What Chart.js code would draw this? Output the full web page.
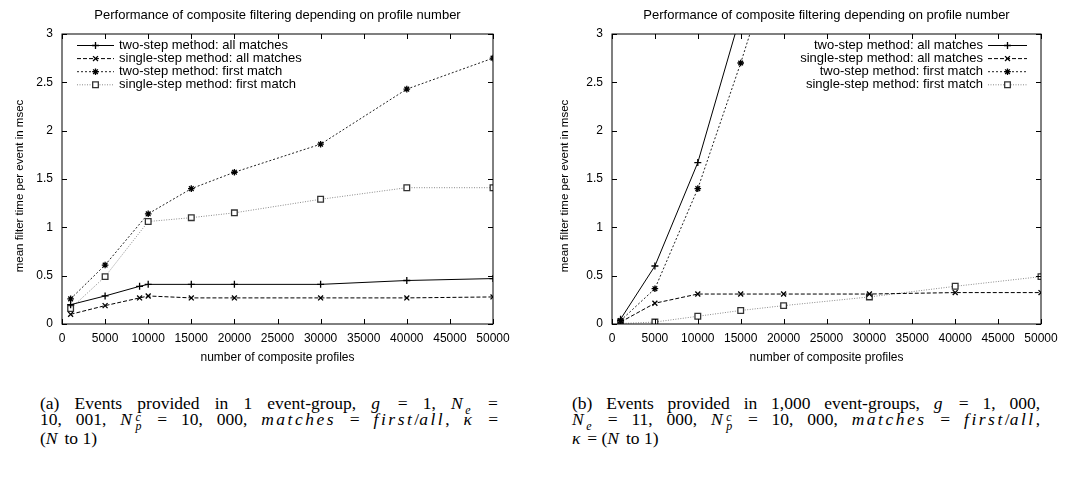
<!DOCTYPE html>
<html>
<head>
<meta charset="utf-8">
<script src="https://cdn.jsdelivr.net/npm/chart.js@4"></script>
<style>
body { margin: 0; background: #fff; width: 1081px; height: 478px; position: relative; overflow: hidden; }
canvas { position: absolute; top: 0; }
#chartA { left: 0; }
#chartB { left: 540px; }
.cap { position: absolute; top: 396px; font-family: "Liberation Serif", "Times New Roman", serif; font-size: 17.5px; line-height: 15.5px; color: #000; }
.cap div { text-align: justify; text-align-last: justify; white-space: nowrap; }
.cap div.last { text-align: left; text-align-last: left; }
.cap i { letter-spacing: 2.5px; }
.cap sub, .cap sup { font-size: 12px; line-height: 0; }
.ss { display: inline-block; vertical-align: -5px; line-height: 9px; font-size: 12px; font-style: italic; margin-left: 1px; margin-right: 2px; }
.ss span { display: block; }
</style>
</head>
<body>
<canvas id="chartA" width="540" height="375"></canvas>
<canvas id="chartB" width="541" height="375"></canvas>

<div class="cap" style="left:40px;width:458px">
  <div>(a) Events provided in 1 event-group, <i>g</i> = 1, <i>N</i><sub><i>e</i></sub> =</div>
  <div>10, 001, <i>N</i><span class="ss"><span>c</span><span>p</span></span> = 10, 000, <i>matches</i> = <i>first</i>/<i>all</i>, <i>κ</i> =</div>
  <div class="last">(<i>N</i> to 1)</div>
</div>
<div class="cap" style="left:572px;width:468px">
  <div>(b) Events provided in 1,000 event-groups, <i>g</i> = 1, 000,</div>
  <div><i>N</i><sub><i>e</i></sub> = 11, 000, <i>N</i><span class="ss"><span>c</span><span>p</span></span> = 10, 000, <i>matches</i> = <i>first</i>/<i>all</i>,</div>
  <div class="last"><i>κ</i> = (<i>N</i> to 1)</div>
</div>

<script>
// ====== Datos ======
const chartTitle = 'Performance of composite filtering depending on profile number';
const xTitle = 'number of composite profiles';
const yTitle = 'mean filter time per event in msec';
const seriesLabels = [
    'two-step method: all matches',
    'single-step method: all matches',
    'two-step method: first match',
    'single-step method: first match'
];

// (a) 1 event-group
const aProfilesAll = [1000, 5000, 9000, 10000, 15000, 20000, 30000, 40000, 50000];
const aTwoAll = [0.20, 0.29, 0.39, 0.41, 0.41, 0.41, 0.41, 0.45, 0.47];
const aSingleAll = [0.10, 0.19, 0.27, 0.29, 0.27, 0.27, 0.27, 0.27, 0.28];
const aProfilesFirst = [1000, 5000, 10000, 15000, 20000, 30000, 40000, 50000];
const aTwoFirst = [0.26, 0.61, 1.14, 1.40, 1.57, 1.86, 2.43, 2.75];
const aSingleFirst = [0.16, 0.49, 1.06, 1.10, 1.15, 1.29, 1.41, 1.41];

// (b) 1,000 event-groups
const bProfiles = [1000, 5000, 10000, 15000, 20000, 30000, 40000, 50000];
const bTwoAll = [0.05, 0.60, 1.67, 3.2];
const bSingleAll = [0.02, 0.215, 0.31, 0.31, 0.31, 0.31, 0.325, 0.325];
const bTwoFirst = [0.035, 0.365, 1.40, 2.70, 4.1];
const bSingleFirst = [0.005, 0.02, 0.08, 0.14, 0.19, 0.28, 0.39, 0.49];

const xTicks = [0, 5000, 10000, 15000, 20000, 25000, 30000, 35000, 40000, 45000, 50000];
const yTicks = [0, 0.5, 1, 1.5, 2, 2.5, 3];

// ====== Estilos ======
const estilos = [
    { dash: [], point: 'cross', color: '#000', pointColor: '#000', radius: 3.5 },
    { dash: [4, 2], point: 'crossRot', color: '#000', pointColor: '#000', radius: 3.5 },
    { dash: [2, 2], point: 'star', color: '#222', pointColor: '#000', radius: 3.3 },
    { dash: [1, 1.5], point: 'rect', color: '#8a8a8a', pointColor: '#333', radius: 4 }
];

const FONT = '"Liberation Sans", Arial, sans-serif';
Chart.defaults.font.family = FONT;
Chart.defaults.font.size = 12;
Chart.defaults.color = '#000';

const toPts = (xs, ys) => ys.map((y, i) => ({ x: xs[i], y: y }));

function makeDatasets(seriesXY) {
    return seriesXY.map((s, i) => ({
        label: seriesLabels[i],
        data: toPts(s[0], s[1]),
        borderColor: estilos[i].color,
        borderWidth: 1,
        borderDash: estilos[i].dash,
        pointStyle: estilos[i].point,
        pointRadius: estilos[i].radius,
        pointBorderWidth: 1.3,
        pointBorderColor: estilos[i].pointColor,
        pointBackgroundColor: '#fff',
        fill: false,
        tension: 0
    }));
}

// marco + ticks hacia adentro (estilo gnuplot) + titulo Y + leyenda
const framePlugin = {
    id: 'frame',
    afterDraw(chart, args, opts) {
        const { ctx, chartArea: a, scales } = chart;
        ctx.save();
        ctx.strokeStyle = '#000';
        ctx.lineWidth = 1;
        ctx.setLineDash([]);
        ctx.strokeRect(a.left, a.top, a.right - a.left, a.bottom - a.top);
        ctx.beginPath();
        xTicks.forEach(v => {
            const x = Math.round(scales.x.getPixelForValue(v)) + 0.5;
            ctx.moveTo(x, a.bottom); ctx.lineTo(x, a.bottom - 5);
            ctx.moveTo(x, a.top); ctx.lineTo(x, a.top + 5);
        });
        yTicks.forEach(v => {
            const y = Math.round(scales.y.getPixelForValue(v)) + 0.5;
            ctx.moveTo(a.left, y); ctx.lineTo(a.left + 5, y);
            ctx.moveTo(a.right, y); ctx.lineTo(a.right - 5, y);
        });
        ctx.stroke();

        // titulo eje Y
        ctx.save();
        ctx.translate(opts.yTitleX, opts.yTitleY);
        ctx.rotate(-Math.PI / 2);
        ctx.font = '11.5px ' + FONT;
        ctx.fillStyle = '#000';
        ctx.textAlign = 'center';
        ctx.textBaseline = 'middle';
        ctx.fillText(yTitle, 0, 0);
        ctx.restore();

        // leyenda
        ctx.font = '13px ' + FONT;
        ctx.textBaseline = 'middle';
        chart.data.datasets.forEach((ds, i) => {
            const y = opts.legendTop + i * 13.1;
            let x0, x1, tx;
            if (opts.legendSide === 'left') {
                x0 = opts.legendX; x1 = x0 + 37; tx = x1 + 5;
                ctx.textAlign = 'left';
            } else {
                x1 = opts.legendX; x0 = x1 - 39; tx = x0 - 5;
                ctx.textAlign = 'right';
            }
            ctx.fillStyle = '#000';
            ctx.fillText(ds.label, tx, y);
            ctx.strokeStyle = ds.borderColor;
            ctx.setLineDash(ds.borderDash);
            ctx.beginPath();
            ctx.moveTo(x0, y + 0.5); ctx.lineTo(x1, y + 0.5);
            ctx.stroke();
            ctx.setLineDash([]);
            ctx.strokeStyle = ds.pointBorderColor;
            ctx.fillStyle = ds.pointBackgroundColor;
            ctx.lineWidth = ds.pointBorderWidth;
            Chart.helpers.drawPoint(ctx, {
                pointStyle: ds.pointStyle, radius: ds.pointRadius,
                borderWidth: ds.pointBorderWidth, rotation: 0
            }, (x0 + x1) / 2, y + 0.5);
            ctx.lineWidth = 1;
        });
        ctx.restore();
    }
};

function makeChart(id, datasets, o) {
    return new Chart(document.getElementById(id).getContext('2d'), {
        type: 'line',
        data: { datasets: datasets },
        options: {
            responsive: false,
            animation: false,
            devicePixelRatio: 1,
            layout: { padding: { left: 0, right: o.padRight, top: 0, bottom: 0 } },
            scales: {
                x: {
                    type: 'linear', min: 0, max: 50000,
                    afterFit: s => { s.height = 51; },
                    grid: { display: false, drawTicks: false },
                    border: { display: false },
                    ticks: { stepSize: 5000, padding: 7, autoSkip: false, maxRotation: 0, callback: v => String(v) },
                    title: { display: true, text: xTitle, padding: { top: 0, bottom: 10 } }
                },
                y: {
                    type: 'linear', min: 0, max: 3,
                    afterFit: s => { s.width = o.yWidth; },
                    grid: { display: false, drawTicks: false },
                    border: { display: false },
                    ticks: { stepSize: 0.5, padding: 9, callback: v => String(v) },
                    title: { display: false }
                }
            },
            plugins: {
                legend: { display: false },
                tooltip: { enabled: false },
                title: {
                    display: true, text: chartTitle, fullSize: false,
                    font: { size: 13, weight: 'normal' },
                    padding: { top: 7.5, bottom: 10.9 }
                },
                frame: o.frame
            }
        },
        plugins: [framePlugin]
    });
}

makeChart('chartA', makeDatasets([
    [aProfilesAll, aTwoAll],
    [aProfilesAll, aSingleAll],
    [aProfilesFirst, aTwoFirst],
    [aProfilesFirst, aSingleFirst]
]), { padRight: 47, yWidth: 62, frame: { legendSide: 'left', legendX: 77, legendTop: 45, yTitleX: 20, yTitleY: 186 } });

makeChart('chartB', makeDatasets([
    [bProfiles, bTwoAll],
    [bProfiles, bSingleAll],
    [bProfiles, bTwoFirst],
    [bProfiles, bSingleFirst]
]), { padRight: 40, yWidth: 72, frame: { legendSide: 'right', legendX: 487, legendTop: 45, yTitleX: 25, yTitleY: 186 } });
</script>
</body>
</html>
